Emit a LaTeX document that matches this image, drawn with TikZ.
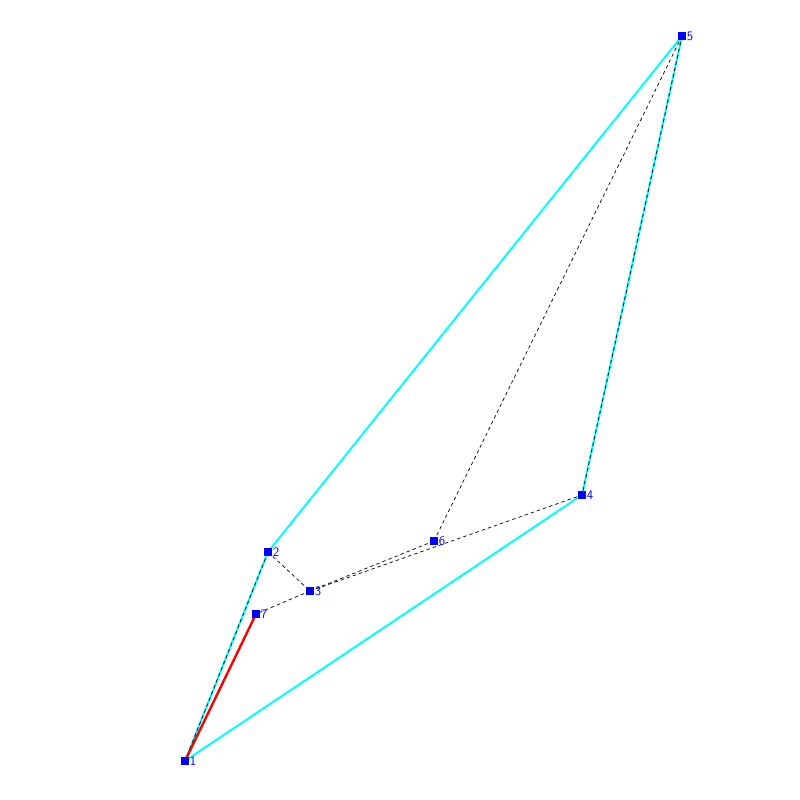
\documentclass[tikz,border=0pt]{standalone}
\usepackage{tikz}
\definecolor{hullcyan}{RGB}{0,255,255}
\definecolor{vblue}{RGB}{0,0,255}
\definecolor{cutred}{RGB}{255,0,0}

\begin{document}
\begin{tikzpicture}[x=1pt,y=-1pt,
  vert/.style={fill=vblue,minimum size=8pt,inner sep=0pt},
  vlabel/.style={anchor=west,text=vblue,font=\fontsize{13}{15}\selectfont\sffamily,inner sep=0.5pt},
  hull/.style={hullcyan,line width=2pt},
  tri/.style={black,line width=0.7pt,dash pattern=on 3.5pt off 3pt},
  cut/.style={cutred,line width=2.4pt}]
  % frame 800 x 800, y grows downward
  \useasboundingbox (0,0) rectangle (800,800);

  % vertex positions
  \coordinate (p1) at (185,761);
  \coordinate (p2) at (268,552);
  \coordinate (p3) at (310,591);
  \coordinate (p4) at (582,495);
  \coordinate (p5) at (682,36);
  \coordinate (p6) at (434,541);
  \coordinate (p7) at (256,614);

  % Hull edges
  \draw[hull] (p1) -- (p2) -- (p5) -- (p4) -- cycle;
  % Dashed edges
  \foreach \a/\b in {1/2, 2/3, 3/7, 3/6, 3/4, 6/5, 5/4} {
    \draw[tri] (p\a) -- (p\b);
  }
  % Red edge
  \draw[cut] (p1) -- (p7);

  % Vertices and their numbers
  \foreach \i in {1,...,7} {
    \node[vert] (v\i) at (p\i) {};
    \node[vlabel] (l\i) at (v\i.east) {\i};
  }
\end{tikzpicture}
\end{document}
